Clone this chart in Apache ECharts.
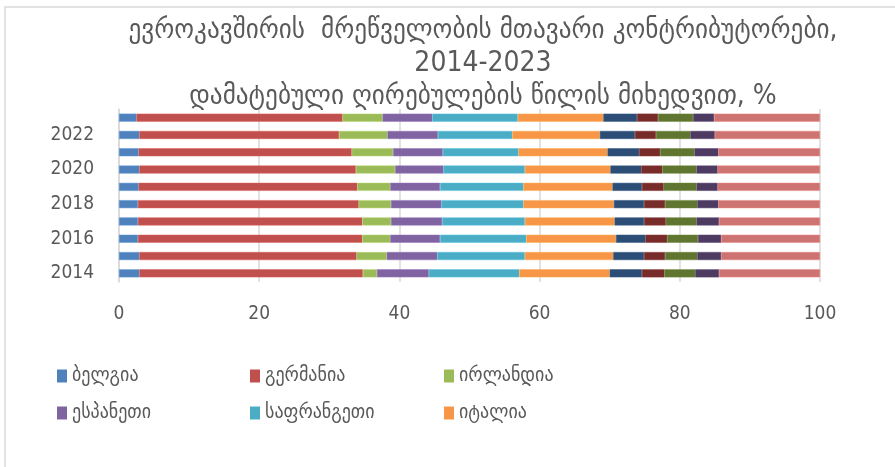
<!DOCTYPE html>
<html>
<head>
<meta charset="utf-8">
<script src="https://cdn.jsdelivr.net/npm/echarts@6/dist/echarts.min.js"></script>
<style>
    html, body { margin: 0; padding: 0; background: #fff; }
    #chart { width: 895px; height: 467px; }
</style>
</head>
<body>
<div id="chart"></div>
<script>
    // years, bottom to top
    const years = ['2014', '2015', '2016', '2017', '2018', '2019', '2020', '2021', '2022', '2023']

    const belgium   = [2.9, 2.9, 2.7, 2.7, 2.7, 2.8, 2.9, 2.8, 2.9, 2.5]
    const germany   = [31.9, 31.0, 32.0, 32.0, 31.5, 31.2, 30.9, 30.4, 28.5, 29.4]
    const ireland   = [2.0, 4.3, 4.0, 4.1, 4.6, 4.7, 5.6, 5.9, 6.9, 5.7]
    const spain     = [7.4, 7.2, 7.1, 7.3, 7.2, 7.1, 6.9, 7.1, 7.2, 7.1]
    const france    = [12.9, 12.5, 12.3, 11.8, 11.7, 11.9, 11.6, 10.8, 10.6, 12.2]
    const italy     = [12.9, 12.6, 12.8, 12.8, 12.9, 12.7, 12.2, 12.7, 12.5, 12.2]
    const netherlands = [4.6, 4.4, 4.2, 4.2, 4.3, 4.2, 4.4, 4.5, 5.0, 4.8]
    const poland    = [3.2, 3.0, 3.1, 3.1, 3.0, 3.1, 3.0, 3.0, 3.0, 3.0]
    const sweden    = [4.4, 4.6, 4.4, 4.4, 4.6, 4.7, 4.9, 4.9, 4.9, 5.0]
    const austria   = [3.4, 3.4, 3.3, 3.2, 3.0, 3.0, 3.0, 3.4, 3.5, 3.0]
    const others    = [14.4, 14.1, 14.1, 14.4, 14.5, 14.6, 14.6, 14.5, 15.0, 15.1]

    const xTicks = [0, 20, 40, 60, 80, 100]

    const font = '"DejaVu Sans Condensed", "DejaVu Sans", "Noto Sans", sans-serif'
    const grey = '#595959'

    const seriesList = [
        { name: 'ბელგია', data: belgium, color: '#4F81BD' },
        { name: 'გერმანია', data: germany, color: '#C0504D' },
        { name: 'ირლანდია', data: ireland, color: '#9BBB59' },
        { name: 'ესპანეთი', data: spain, color: '#8064A2' },
        { name: 'საფრანგეთი', data: france, color: '#4BACC6' },
        { name: 'იტალია', data: italy, color: '#F79646' },
        { name: 'ნიდერლანდები', data: netherlands, color: '#2C4D75' },
        { name: 'პოლონეთი', data: poland, color: '#772C2A' },
        { name: 'შვედეთი', data: sweden, color: '#5F7530' },
        { name: 'ავსტრია', data: austria, color: '#4D3B62' },
        { name: 'სხვა', data: others, color: '#CD7371' }
    ]

    const chart = echarts.init(document.getElementById('chart'))

    // only the first six show up in the legend
    const legendItems = seriesList.slice(0, 6)
    const legendPos = [
        { left: 52, top: 361 }, { left: 245, top: 361 }, { left: 439, top: 361 },
        { left: 52, top: 398 }, { left: 245, top: 398 }, { left: 439, top: 398 }
    ]

    chart.setOption({
        animation: false,
        title: {
            text: 'ევროკავშირის  მრეწველობის მთავარი კონტრიბუტორები,\n2014-2023\nდამატებული ღირებულების წილის მიხედვით, %',
            left: 478,
            textAlign: 'center',
            top: 9,
            textStyle: {
                fontFamily: font,
                fontSize: 28,
                fontWeight: 'normal',
                color: grey,
                lineHeight: 33
            }
        },
        graphic: [{
            type: 'rect',
            shape: { x: 5, y: 7, width: 900, height: 470 },
            style: { fill: 'none', stroke: '#d9d9d9', lineWidth: 1.5 },
            silent: true
        }],
        legend: legendItems.map((s, i) => ({
            data: [s.name],
            left: legendPos[i].left,
            top: legendPos[i].top,
            itemWidth: 10,
            itemHeight: 13,
            icon: 'rect',
            itemGap: 4,
            itemStyle: { borderWidth: 0 },
            textStyle: { fontFamily: font, fontSize: 20, color: grey }
        })),
        grid: {
            left: 119,
            right: 75,
            top: 109,
            height: 173
        },
        xAxis: {
            type: 'value',
            min: 0,
            max: 100,
            interval: 20,
            axisLine: { show: false },
            axisTick: { show: false },
            splitLine: { show: true, lineStyle: { color: '#d9d9d9', width: 1.5 } },
            axisLabel: {
                fontFamily: font,
                fontSize: 19,
                color: grey,
                margin: 23,
                customValues: xTicks
            }
        },
        yAxis: {
            type: 'category',
            data: years,
            axisLine: { show: true, lineStyle: { color: '#d9d9d9', width: 1.5 } },
            axisTick: { show: false },
            axisLabel: {
                fontFamily: font,
                fontSize: 19,
                color: grey,
                margin: 25,
                interval: 1
            }
        },
        series: seriesList.map(s => ({
            name: s.name,
            type: 'bar',
            stack: 'total',
            barWidth: 8,
            data: s.data,
            itemStyle: {
                color: s.color,
                borderColor: echarts.color.lift(s.color, -0.15),
                borderWidth: 0.5
            }
        }))
    })
</script>
</body>
</html>
